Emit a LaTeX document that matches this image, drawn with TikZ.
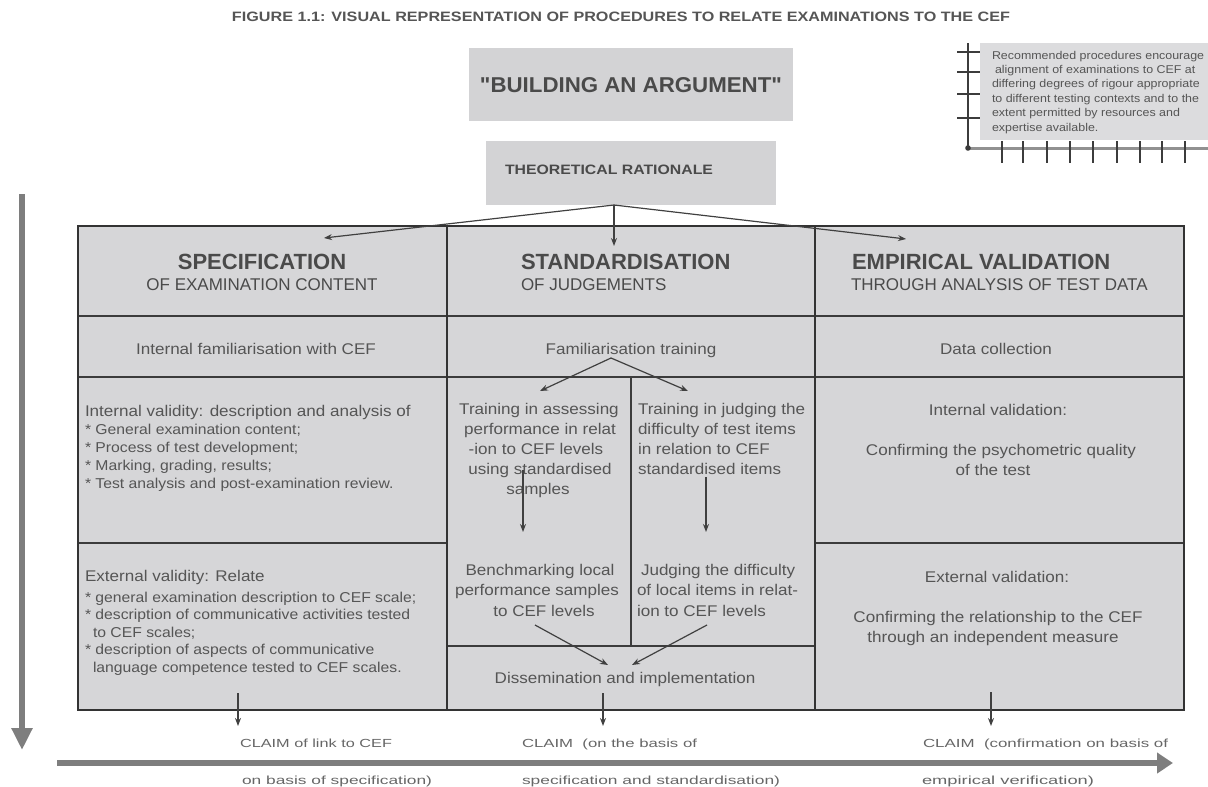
\documentclass[tikz,border=0pt]{standalone}
\usepackage{fontspec}
\setmainfont{Liberation Sans}
\newfontfamily\bodyfont[FakeStretch=1.1]{Liberation Sans}
\newfontfamily\qfont[Ligatures=TeXOff]{Liberation Sans}
\usepackage{graphicx}
\usetikzlibrary{arrows.meta}
\definecolor{cellfill}{HTML}{D6D6D8}
\definecolor{boxfill}{HTML}{D3D3D5}
\definecolor{insetfill}{HTML}{DCDCDE}
\definecolor{linec}{HTML}{3C3C3C}
\definecolor{framec}{HTML}{333333}
\definecolor{txtc}{HTML}{555555}
\definecolor{hdrc}{HTML}{4A4A4A}
\definecolor{arrc}{HTML}{404040}
\definecolor{bigc}{HTML}{7E7E7E}
\definecolor{claimc}{HTML}{666666}
\definecolor{titlec}{HTML}{555555}
\begin{document}
\begin{tikzpicture}[x=1pt,y=-1pt,
  every node/.style={inner sep=0pt, outer sep=0pt},
  cell/.style={draw=linec, line width=1.6pt, fill=cellfill, anchor=north west},
  framel/.style={draw=framec, line width=2.6pt},
  hdr/.style={font=\fontsize{22}{26}\selectfont\bfseries, text=hdrc, anchor=base},
  subt/.style={font=\fontsize{17}{20}\selectfont, text=hdrc, anchor=base},
  body/.style={font=\bodyfont\fontsize{15.5}{19}\selectfont, text=txtc, anchor=base},
  bul/.style={font=\bodyfont\fontsize{14.3}{18}\selectfont, text=txtc, anchor=base west},
  inset/.style={font=\bodyfont\fontsize{11.3}{14}\selectfont, text=txtc, anchor=base west},
  claim/.style={text=claimc, anchor=base west},
  conn/.style={draw=arrc, line width=1.2pt, -{Stealth[length=8pt,width=6pt]}},
  cconn/.style={draw=arrc, line width=1.5pt, -{Stealth[length=8pt,width=6pt]}},
  bigarrow/.style={draw=bigc, line width=6.5pt},
  tick/.style={draw=linec, line width=1.3pt}
]
\useasboundingbox (0,0) rectangle (1208,787);

% title
\node[text=titlec] (title) at (621,17) {\resizebox{778pt}{9.5pt}{\bfseries FIGURE 1.1: VISUAL REPRESENTATION OF PROCEDURES TO RELATE EXAMINATIONS TO THE CEF}};

% top boxes
\node[fill=boxfill, minimum width=324pt, minimum height=73pt, anchor=north west] (build) at (469,48) {};
\node[text=hdrc] (buildt) at (631,85) {\resizebox{302pt}{15pt}{\qfont\bfseries "BUILDING AN ARGUMENT"}};
\node[fill=boxfill, minimum width=290pt, minimum height=64pt, anchor=north west] (theo) at (486,141) {};
\node[text=hdrc, anchor=west] (theot) at (505,170) {\resizebox{208pt}{9.5pt}{\bfseries THEORETICAL RATIONALE}};

% inset
\node[fill=insetfill, minimum width=228pt, minimum height=97pt, anchor=north west] (insetbox) at (980,43) {};
\draw[tick, line width=1.5pt] (968,43) -- (968,148);
\foreach \yy in {52,72,94,118} \draw[tick] (957,\yy) -- (980,\yy);
\draw[draw=bigc!85, line width=3pt] (968,148) -- (1208,148);
\foreach \xx in {1002,1023,1047,1070,1093,1117,1140,1162,1185} \draw[tick] (\xx,141) -- (\xx,163);
\fill[linec] (968,148) circle (2.8pt);
\node[inset] (in1) at (992,59) {Recommended procedures encourage};
\node[inset] (in2) at (995,73.4) {alignment of examinations to CEF at};
\node[inset] (in3) at (992,87.8) {differing degrees of rigour appropriate};
\node[inset] (in4) at (992,102.2) {to different testing contexts and to the};
\node[inset] (in5) at (992,116.6) {extent permitted by resources and};
\node[inset] (in6) at (992,131) {expertise available.};

% table cells
\node[cell, minimum width=369pt, minimum height=90pt] (spechd) at (78,226) {};
\node[cell, minimum width=368pt, minimum height=90pt] (stdhd) at (447,226) {};
\node[cell, minimum width=369pt, minimum height=90pt] (emphd) at (815,226) {};
\node[cell, minimum width=369pt, minimum height=61pt] (specfam) at (78,316) {};
\node[cell, minimum width=368pt, minimum height=61pt] (stdfam) at (447,316) {};
\node[cell, minimum width=369pt, minimum height=61pt] (empfam) at (815,316) {};
\node[cell, minimum width=369pt, minimum height=166pt] (specint) at (78,377) {};
\node[cell, minimum width=369pt, minimum height=167pt] (specext) at (78,543) {};
\node[cell, minimum width=184pt, minimum height=269pt] (stdL) at (447,377) {};
\node[cell, minimum width=184pt, minimum height=269pt] (stdR) at (631,377) {};
\node[cell, minimum width=368pt, minimum height=64pt] (dissem) at (447,646) {};
\node[cell, minimum width=369pt, minimum height=166pt] (empint) at (815,377) {};
\node[cell, minimum width=369pt, minimum height=167pt] (empext) at (815,543) {};
\draw[framel] (spechd.north west) rectangle (empext.south east);
\draw[framel] (spechd.north east) -- (specext.south east);
\draw[framel] (stdhd.north east) -- (dissem.south east);

% headers
\node[hdr] (spect) at (262,269) {SPECIFICATION};
\node[subt] (specs) at (262,290) {OF EXAMINATION CONTENT};
\node[hdr, anchor=base west] (stdt) at (521,269) {STANDARDISATION};
\node[subt, anchor=base west] (stds) at (521,290) {OF JUDGEMENTS};
\node[hdr, anchor=base west] (empt) at (852,269) {EMPIRICAL VALIDATION};
\node[subt, anchor=base west] (emps) at (851,290) {THROUGH ANALYSIS OF TEST DATA};

% row 2
\node[body] (specfamt) at (256,354) {Internal familiarisation with CEF};
\node[body] (stdfamt) at (631,354) {Familiarisation training};
\node[body] (empfamt) at (996,354) {Data collection};

% column 1
\node[body, anchor=base west] (ivh) at (85,416) {Internal validity: description and analysis of};
\node[bul] (iv1) at (85,434) {* General examination content;};
\node[bul] (iv2) at (85,452) {* Process of test development;};
\node[bul] (iv3) at (85,470) {* Marking, grading, results;};
\node[bul] (iv4) at (85,488) {* Test analysis and post-examination review.};
\node[body, anchor=base west] (evh) at (85,581) {External validity: Relate};
\node[bul] (ev1) at (85,602) {* general examination description to CEF scale;};
\node[bul] (ev2) at (85,619.5) {* description of communicative activities tested};
\node[bul] (ev3) at (93,637) {to CEF scales;};
\node[bul] (ev4) at (85,654.5) {* description of aspects of communicative};
\node[bul] (ev5) at (93,672) {language competence tested to CEF scales.};

% column 2
\node[body] (ta1) at (539,414) {Training in assessing};
\node[body] (ta2) at (540,434) {performance in relat};
\node[body] (ta3) at (536,454) {-ion to CEF levels};
\node[body] (ta4) at (540,474) {using standardised};
\node[body] (ta5) at (538,494) {samples};
\node[body, anchor=base west] (tj1) at (638,414) {Training in judging the};
\node[body, anchor=base west] (tj2) at (638,434) {difficulty of test items};
\node[body, anchor=base west] (tj3) at (638,454) {in relation to CEF};
\node[body, anchor=base west] (tj4) at (638,474) {standardised items};
\node[body] (bm1) at (540,575) {Benchmarking local};
\node[body] (bm2) at (537,595) {performance samples};
\node[body] (bm3) at (544,616) {to CEF levels};
\node[body, anchor=base west] (jd1) at (641,575) {Judging the difficulty};
\node[body, anchor=base west] (jd2) at (637,595) {of local items in relat-};
\node[body, anchor=base west] (jd3) at (637,616) {ion to CEF levels};
\node[body] (dist) at (625,683) {Dissemination and implementation};

% column 3
\node[body] (ivt) at (998,415) {Internal validation:};
\node[body] (ivt2) at (1001,455) {Confirming the psychometric quality};
\node[body] (ivt3) at (993,475) {of the test};
\node[body] (evt) at (997,582) {External validation:};
\node[body] (evt2) at (998,622) {Confirming the relationship to the CEF};
\node[body] (evt3) at (993,642) {through an independent measure};

% connectors: theoretical rationale
\coordinate (apex) at (614,205);
\coordinate (tgtspec) at (324,238);
\coordinate (tgtstd) at (614,246);
\coordinate (tgtemp) at (906,239);
\draw[conn] (apex) -- (tgtspec);
\draw[conn] (apex) -- (tgtstd);
\draw[conn] (apex) -- (tgtemp);

% familiarisation training
\coordinate (fapex) at (611,358);
\coordinate (taTop) at (540,391);
\coordinate (tjTop) at (688,391);
\draw[conn] (fapex) -- (taTop);
\draw[conn] (fapex) -- (tjTop);

% training -> benchmarking / judging
\coordinate (taA) at (523,470);
\coordinate (taB) at (523,532);
\coordinate (tjA) at (706,477);
\coordinate (tjB) at (706,532);
\draw[conn] (taA) -- (taB);
\draw[conn] (tjA) -- (tjB);

% -> dissemination
\coordinate (bmA) at (535,625);
\coordinate (bmB) at (608,665);
\coordinate (jdA) at (707,625);
\coordinate (jdB) at (632,665);
\draw[conn] (bmA) -- (bmB);
\draw[conn] (jdA) -- (jdB);

% claim arrows
\coordinate (c1a) at (238,693); \coordinate (c1b) at (238,726);
\coordinate (c2a) at (603,693); \coordinate (c2b) at (603,726);
\coordinate (c3a) at (991,692); \coordinate (c3b) at (991,726);
\draw[cconn] (c1a) -- (c1b);
\draw[cconn] (c2a) -- (c2b);
\draw[cconn] (c3a) -- (c3b);

% claims
\node[claim] (cl1a) at (240,747) {\resizebox{152pt}{8.5pt}{CLAIM of link to CEF}};
\node[claim] (cl1b) at (242,784) {\resizebox{190pt}{8.5pt}{on basis of specification)}};
\node[claim] (cl2a) at (522,747) {\resizebox{175pt}{8.5pt}{CLAIM\ \ (on the basis of}};
\node[claim] (cl2b) at (522,784) {\resizebox{258pt}{8.5pt}{specification and standardisation)}};
\node[claim] (cl3a) at (923,747) {\resizebox{245pt}{8.5pt}{CLAIM\ \ (confirmation on basis of}};
\node[claim] (cl3b) at (922,784) {\resizebox{172pt}{8.5pt}{empirical verification)}};

% big arrows
\coordinate (hs) at (57,763);
\coordinate (he) at (1173,763);
\draw[bigarrow, -{Triangle[length=16pt,width=20pt]}] (hs) -- (he);
\coordinate (vs) at (22,194);
\coordinate (ve) at (22,750);
\draw[bigarrow, line width=6pt, -{Triangle[length=22pt,width=20pt]}] (vs) -- (ve);
\end{tikzpicture}
\end{document}
